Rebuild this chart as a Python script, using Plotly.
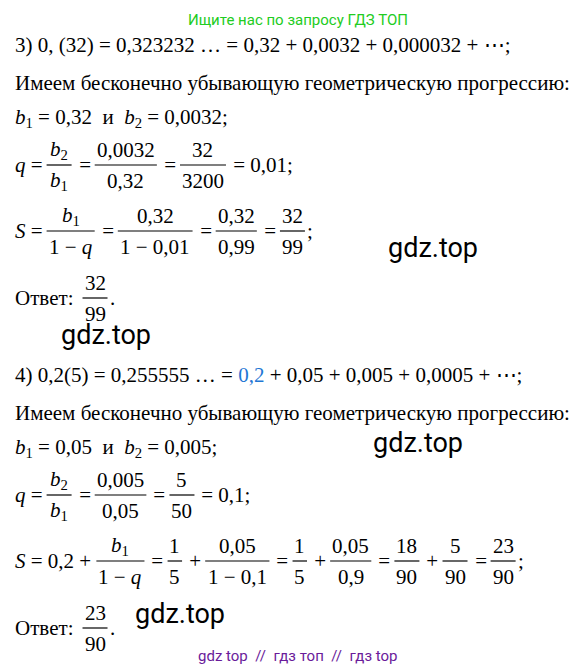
import re
import plotly.graph_objects as go

W, H = 579, 665
FS = 21

header = "Ищите нас по запросу ГДЗ ТОП"
footer = "gdz top  //  гдз топ  //  гдз top"
watermarks = [(425, 240), (98, 327), (410, 435), (172, 606)]

B1 = "<i>b</i><sub>1</sub>"
B2 = "<i>b</i><sub>2</sub>"
lines = [
    (37, ["3) 0, (32) = 0,323232 … = 0,32 + 0,0032 + 0,000032 + ⋯;"]),
    (75, ["Имеем бесконечно убывающую геометрическую прогрессию:"]),
    (110, [B1 + " = 0,32  и  " + B2 + " = 0,0032;"]),
    (157, ["<i>q</i> = ", (B2, B1), " = ", ("0,0032", "0,32"), " = ", ("32", "3200"), " = 0,01;"]),
    (223, ["<i>S</i> = ", (B1, "1 − <i>q</i>"), " = ", ("0,32", "1 − 0,01"), " = ", ("0,32", "0,99"), " = ", ("32", "99"), ";"]),
    (290, ["Ответ:  ", ("32", "99"), "."]),
    (367, ["4) 0,2(5) = 0,255555 … = <span style='color:#1f77d4'>0,2</span> + 0,05 + 0,005 + 0,0005 + ⋯;"]),
    (405, ["Имеем бесконечно убывающую геометрическую прогрессию:"]),
    (440, [B1 + " = 0,05  и  " + B2 + " = 0,005;"]),
    (487, ["<i>q</i> = ", (B2, B1), " = ", ("0,005", "0,05"), " = ", ("5", "50"), " = 0,1;"]),
    (553, ["<i>S</i> = 0,2 + ", (B1, "1 − <i>q</i>"), " = ", ("1", "5"), " + ", ("0,05", "1 − 0,1"), " = ", ("1", "5"), " + ", ("0,05", "0,9"), " = ", ("18", "90"), " + ", ("5", "90"), " = ", ("23", "90"), ";"]),
    (620, ["Ответ:  ", ("23", "90"), "."]),
]

NARROW = " ,.;:()"
def twidth(s):
    s = re.sub(r"<sub>.*?</sub>", "x", s)
    s = re.sub(r"<[^>]+>", "", s)
    w = 0
    for c in s:
        if c in NARROW:
            w += 0.27
        elif c in "=+−":
            w += 0.56
        elif c in "…⋯":
            w += 1.0
        else:
            w += 0.5
    return w * FS

FONT = dict(family="Liberation Serif, DejaVu Serif", size=FS, color="black")
anns, shapes = [], []
for y, toks in lines:
    x = 5
    for t in toks:
        if isinstance(t, str):
            anns.append(dict(x=x, y=y, text=t, xanchor="left", yanchor="middle", showarrow=False, font=FONT))
            x += twidth(t)
        else:
            num, den = t
            w = max(twidth(num), twidth(den)) + 4
            cx = x + w / 2
            anns.append(dict(x=cx, y=y - 15, text=num, xanchor="center", yanchor="middle", showarrow=False, font=FONT))
            anns.append(dict(x=cx, y=y + 16, text=den, xanchor="center", yanchor="middle", showarrow=False, font=FONT))
            shapes.append(dict(type="line", x0=x, x1=x + w, y0=y, y1=y, line=dict(color="black", width=1.2)))
            x += w

anns.append(dict(x=W / 2, y=12, text=header, showarrow=False, font=dict(family="Roboto", size=15, color="#22cc22")))
anns.append(dict(x=W / 2, y=648, text=footer, showarrow=False, font=dict(family="Roboto", size=15, color="#6a1b9a")))
for wx, wy in watermarks:
    anns.append(dict(x=wx, y=wy, text="gdz.top", showarrow=False, font=dict(family="Roboto", size=27, color="black")))

fig = go.Figure()
fig.update_layout(width=W, height=H, margin=dict(l=0, r=0, t=0, b=0),
                  paper_bgcolor="white", plot_bgcolor="white",
                  xaxis=dict(range=[0, W], visible=False), yaxis=dict(range=[H, 0], visible=False),
                  annotations=anns, shapes=shapes, showlegend=False)
fig.write_html("out.html")
